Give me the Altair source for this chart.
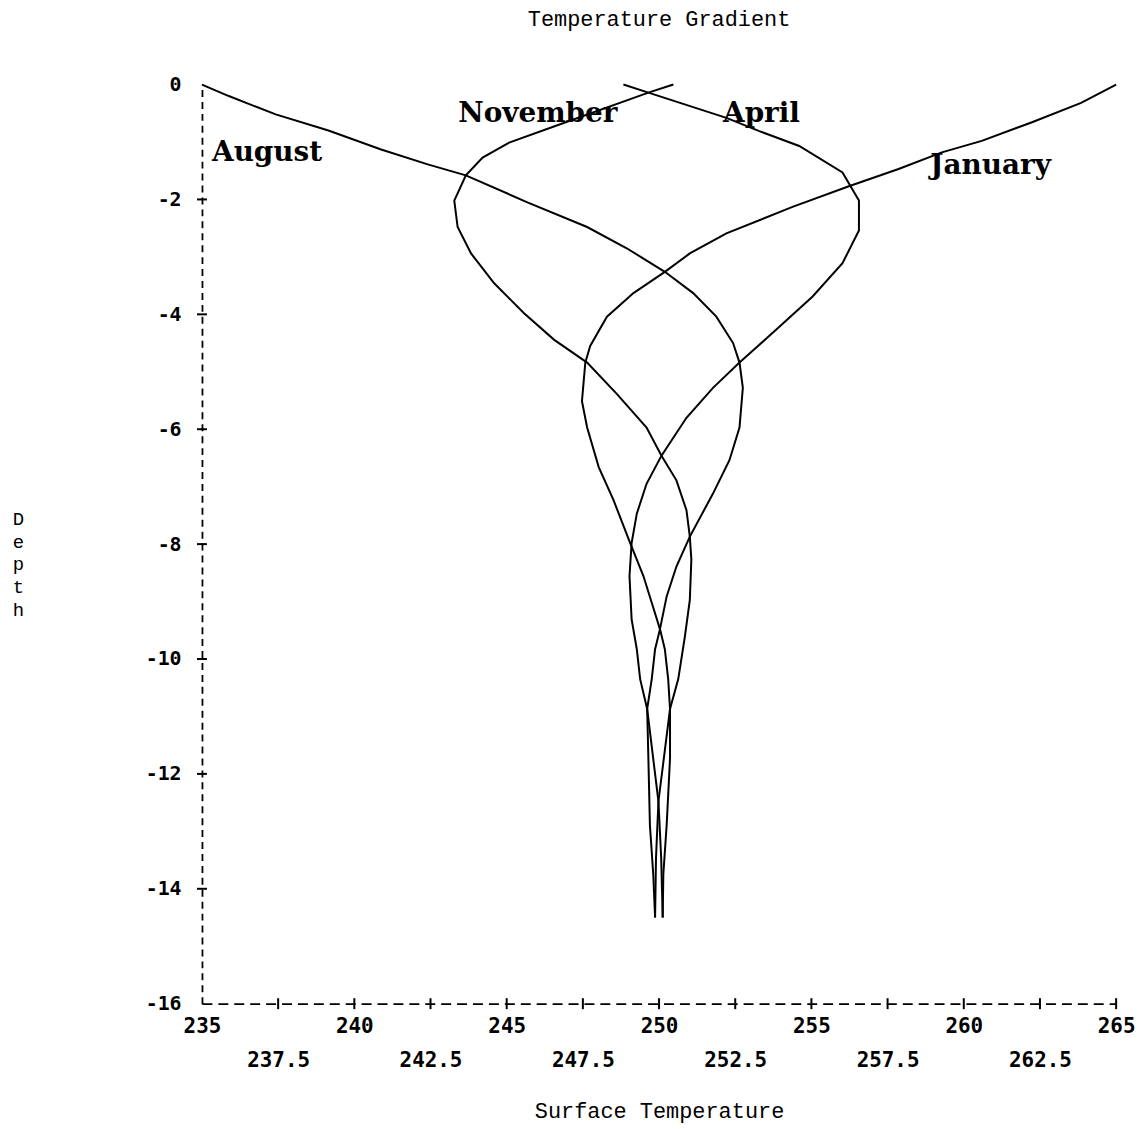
import altair as alt
import pandas as pd

# ---- data ----
aug_temp = [235.0, 235.88, 237.42, 239.15, 240.88, 242.41, 243.66, 245.68, 247.64, 248.94,
            250.19, 251.12, 251.88, 252.43, 252.64, 252.75, 252.64, 252.31, 251.77, 251.01,
            250.57, 250.25, 250.03, 249.87, 249.76, 249.61, 249.65, 249.70, 249.81, 249.87]
aug_depth = [0.0, -0.20, -0.52, -0.80, -1.13, -1.39, -1.58, -2.05, -2.48, -2.85,
             -3.26, -3.63, -4.04, -4.50, -4.84, -5.28, -5.97, -6.54, -7.12, -7.87,
             -8.39, -8.91, -9.48, -9.83, -10.35, -10.87, -11.73, -12.89, -13.75, -14.50]

jan_temp = [265.0, 263.85, 262.22, 260.59, 259.28, 257.86, 256.23, 254.38, 252.21, 251.01,
            250.19, 249.16, 248.29, 247.74, 247.58, 247.47, 247.64, 248.02, 248.51, 249.05,
            249.49, 249.76, 250.03, 250.19, 250.30, 250.36, 250.36, 250.25, 250.14, 250.12]
jan_depth = [0.0, -0.32, -0.66, -0.98, -1.18, -1.47, -1.77, -2.13, -2.59, -2.94,
             -3.26, -3.63, -4.04, -4.55, -4.84, -5.51, -5.97, -6.66, -7.24, -7.98,
             -8.56, -9.02, -9.48, -9.83, -10.35, -10.87, -11.73, -12.89, -13.75, -14.50]

nov_temp = [250.47, 249.65, 246.55, 245.08, 244.21, 243.66, 243.28, 243.39, 243.83, 244.59,
            245.57, 246.55, 247.64, 248.62, 249.59, 250.08, 250.57, 250.90, 251.01, 251.06,
            251.01, 250.85, 250.63, 250.36, 249.98, 249.90, 249.87]
nov_depth = [0.0, -0.14, -0.73, -1.01, -1.27, -1.58, -2.02, -2.48, -2.94, -3.46,
             -3.98, -4.44, -4.84, -5.39, -5.97, -6.46, -6.89, -7.41, -7.87, -8.27,
             -8.97, -9.60, -10.35, -10.87, -12.48, -13.46, -14.50]

apr_temp = [248.83, 249.65, 252.21, 253.29, 254.60, 256.02, 256.56, 256.56, 256.02, 255.04,
            253.84, 252.64, 251.77, 250.90, 250.08, 249.59, 249.27, 249.10, 249.03, 249.10,
            249.27, 249.38, 249.61, 249.98, 250.07, 250.12]
apr_depth = [0.0, -0.14, -0.58, -0.81, -1.07, -1.53, -2.02, -2.54, -3.11, -3.69,
             -4.27, -4.84, -5.28, -5.80, -6.46, -6.95, -7.47, -7.98, -8.56, -9.31,
             -9.83, -10.35, -10.87, -12.48, -13.46, -14.50]

label_names = ["August", "November", "April", "January"]
label_temp = [235.33, 243.41, 252.10, 258.90]
label_depth = [-1.20, -0.52, -0.52, -1.42]

x_label_values = [235, 237.5, 240, 242.5, 245, 247.5, 250, 252.5, 255, 257.5, 260, 262.5, 265]
x_cross_ticks = [237.5, 240, 242.5, 245, 247.5, 250, 252.5, 255, 257.5, 260, 262.5, 265]
y_label_values = [0, -2, -4, -6, -8, -10, -12, -14, -16]
y_cross_ticks = [-2, -4, -6, -8, -10, -12, -14]

# ---- tables ----
rows = []
for name, ts, ds in [("August", aug_temp, aug_depth), ("January", jan_temp, jan_depth),
                     ("November", nov_temp, nov_depth), ("April", apr_temp, apr_depth)]:
    for i, (t, d) in enumerate(zip(ts, ds)):
        rows.append({"month": name, "order": i, "temp": t, "depth": d})
curves = pd.DataFrame(rows)
labels = pd.DataFrame({"label": label_names, "temp": label_temp, "depth": label_depth})
xt = pd.DataFrame({"temp": x_cross_ticks, "depth": [-16] * len(x_cross_ticks)})
yt = pd.DataFrame({"temp": [235] * len(y_cross_ticks), "depth": y_cross_ticks})

xscale = alt.Scale(domain=[235, 265], nice=False, zero=False)
yscale = alt.Scale(domain=[-16, 0], nice=False, zero=False)

MONO = "DejaVu Sans Mono"
TFONT = "Liberation Mono"

x_axis = alt.Axis(
    values=x_label_values,
    labelExpr="datum.value % 5 == 0 ? '' + datum.value : ['', '' + datum.value]",
    grid=False, ticks=False, tickSize=0,
    domainColor="black", domainWidth=1.8, domainDash=[10, 6],
    labelFont=MONO, labelFontSize=21, labelFontWeight="bold", labelColor="black",
    labelPadding=12, labelLineHeight=34, labelFlush=False, labelOverlap=False,
    labelBaseline="top",
    title="Surface Temperature", titleFont=TFONT, titleFontSize=22,
    titleFontWeight="normal", titleColor="black",
    titleY=114, titleBaseline="alphabetic", titleAlign="center",
)
y_axis = alt.Axis(
    values=y_label_values,
    labelExpr="'' + datum.value",
    grid=False, ticks=False, tickSize=0,
    domainColor="black", domainWidth=1.8, domainDash=[7, 5],
    labelFont=MONO, labelFontSize=20, labelFontWeight="bold", labelColor="black",
    labelPadding=21, labelOverlap=False, labelFlush=False,
    title=["D", "e", "p", "t", "h"], titleFont=TFONT, titleFontSize=19,
    titleFontWeight="normal", titleColor="black", titleAngle=0,
    titleAlign="center", titleBaseline="alphabetic",
    titleX=-185, titleY=442, titleLineHeight=23,
)

X = alt.X("temp:Q", scale=xscale, axis=x_axis)
Y = alt.Y("depth:Q", scale=yscale, axis=y_axis)

lines = alt.Chart(curves).mark_line(color="black", strokeWidth=2).encode(
    x=X, y=Y, detail="month:N", order="order:Q",
)

xticks = alt.Chart(xt).mark_tick(orient="vertical", size=11, thickness=2,
                                 color="black", opacity=1).encode(x=X, y=Y)
yticks = alt.Chart(yt).mark_tick(orient="horizontal", size=10, thickness=2,
                                 color="black", opacity=1).encode(x=X, y=Y)

texts = alt.Chart(labels).mark_text(
    font="DejaVu Serif", fontSize=28, fontWeight="bold", align="left",
    baseline="middle", color="black",
).encode(x=X, y=Y, text="label:N")

chart = alt.layer(lines, xticks, yticks, texts).properties(
    width=919,
    height=924,
    title=alt.TitleParams("Temperature Gradient", font=TFONT, fontSize=22,
                          fontWeight="normal", color="black", anchor="middle", offset=44),
    autosize=alt.AutoSizeParams(type="none"),
    padding={"left": 195, "top": 74, "right": 24, "bottom": 119},
    background="white",
).configure_view(strokeWidth=0)

chart.save("out.html", embed_options={"renderer": "svg", "actions": False})
